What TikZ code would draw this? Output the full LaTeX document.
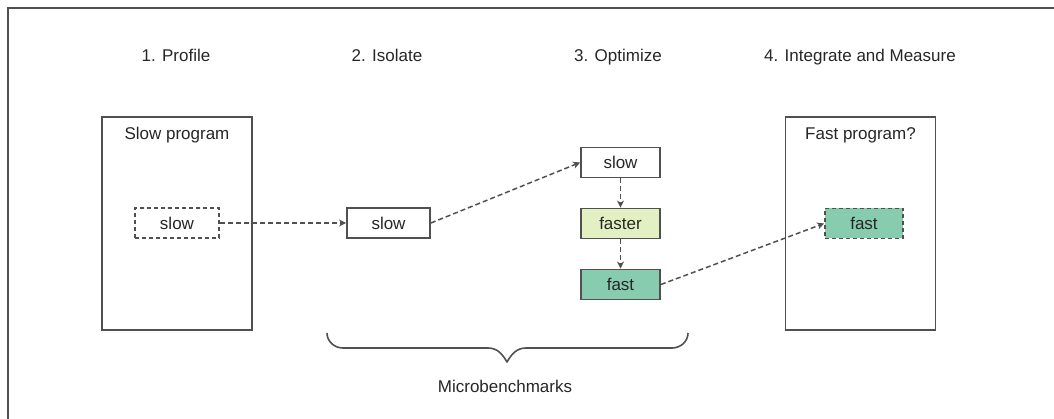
\documentclass[tikz,border=0pt]{standalone}
\usepackage{fontspec}
\setmainfont{Liberation Sans}
\usetikzlibrary{arrows.meta,calc}
\definecolor{linegray}{HTML}{505050}
\definecolor{fastergreen}{HTML}{E3F0C3}
\definecolor{fastgreen}{HTML}{88CCB0}
\begin{document}
\begin{tikzpicture}[x=1pt,y=-1pt,
  every node/.style={font=\fontsize{17}{20}\selectfont, text=black!85},
  prog/.style={draw=linegray, line width=1.8pt, fill=white, minimum width=150pt, minimum height=213pt},
  fn/.style={draw=linegray, line width=1.8pt, fill=white, minimum width=82pt, minimum height=30pt, inner sep=0pt},
  ghost/.style={fn, dash pattern=on 4pt off 3pt},
  flow/.style={draw=linegray, line width=1.5pt, dash pattern=on 5pt off 3pt, -{Stealth[length=7pt,width=7pt,inset=2pt]}},
  title/.style={anchor=base}
]
\useasboundingbox (0,0) rectangle (1054,419);
% outer frame (top and left edges)
\draw[linegray, line width=2.2pt] (1054,8) -- (8,8) -- (8,419);

% step titles
\node[title] (t1) at (176,62) {1. Profile};
\node[title] (t2) at (387,62) {2. Isolate};
\node[title] (t3) at (618,62) {3. Optimize};
\node[title] (t4) at (860,62) {4. Integrate and Measure};

% program boxes
\node[prog] (slowprog) at (177,223.5) {};
\node[anchor=base] (slowlbl) at (177,140) {Slow program};
\node[prog] (fastprog) at (860.5,223.5) {};
\node[anchor=base] (fastlbl) at (860.5,140) {Fast program?};

% functions
\node[ghost, minimum width=84pt] (dslow) at (177,223) {slow};
\node[fn, minimum width=83pt] (islow) at (388.5,223) {slow};
\node[fn, minimum width=79pt] (oslow) at (620.5,162.5) {slow};
\node[fn, minimum width=79pt, fill=fastergreen] (faster) at (620.5,223.5) {faster};
\node[fn, minimum width=79pt, fill=fastgreen] (fast) at (620.5,284.5) {fast};
\node[ghost, minimum width=78pt, fill=fastgreen] (ffast) at (864,223.5) {fast};

% connectors
\draw[flow] (dslow.east) -- (islow.west);
\draw[flow] (islow.east) -- (oslow.west);
\draw[flow] (oslow.south) -- (faster.north);
\draw[flow] (faster.south) -- (fast.north);
\draw[flow] (fast.east) -- (ffast.west);

% brace under the isolate and optimize stages
\coordinate (bl) at (327,333);
\coordinate (br) at (688,333);
\coordinate (btip) at (507,362);
\draw[linegray, line width=1.6pt, line join=round]
  (bl) to[out=-90,in=180] (343,348) -- (488,348)
  to[out=0,in=120] (btip) to[out=60,in=180] (526,348)
  -- (672,348) to[out=0,in=-90] (br);
\node (micro) at (505,386) {Microbenchmarks};
\end{tikzpicture}
\end{document}
